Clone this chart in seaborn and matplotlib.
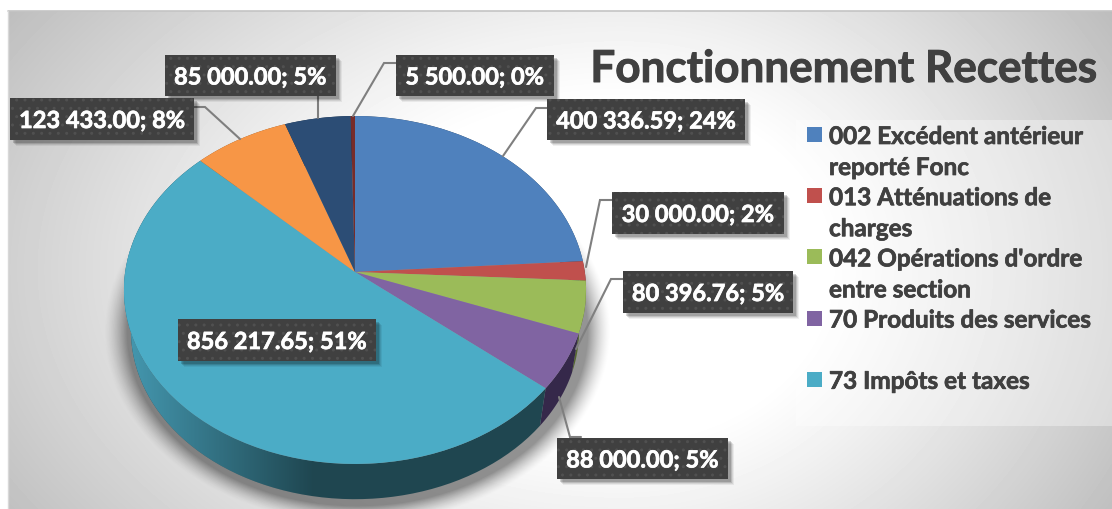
import numpy as np
import matplotlib
matplotlib.use("Agg")
import matplotlib.pyplot as plt
import matplotlib.patheffects as pe
import seaborn as sns
from matplotlib.patches import Rectangle, Polygon
from matplotlib.transforms import Transform
from matplotlib.path import Path

# data
categories = ["002 Excédent antérieur\nreporté Fonc", "013 Atténuations de\ncharges",
              "042 Opérations d'ordre\nentre section", "70 Produits des services\n ",
              "73 Impôts et taxes"]
values = [400336.59, 30000.00, 80396.76, 88000.00, 856217.65, 123433.00, 85000.00, 5500.00]
value_labels = ["400 336.59; 24%", "30 000.00; 2%", "80 396.76; 5%", "88 000.00; 5%",
                "856 217.65; 51%", "123 433.00; 8%", "85 000.00; 5%", "5 500.00; 0%"]
title = "Fonctionnement Recettes"

# styles and layout (pixels)
colors = sns.color_palette(["#4F81BD", "#C0504D", "#9BBB59", "#8064A2",
                            "#4BACC6", "#F79646", "#2C4D75", "#772C2A"])
side_colors = ["#2a4666", "#68302e", "#55672f", "#35284a", "#1f4650", "#8a5226", "#1a2e46", "#451a19"]
boxes = [(547, 100, 745, 141), (612, 193, 784, 235), (623, 272, 793, 314), (557, 439, 728, 480),
         (178, 320, 376, 362), (10, 99, 194, 141), (165, 56, 336, 97), (396, 56, 554, 97)]
leaders = [[(547, 109), (536, 109), (503, 157)],
           [(612, 201), (600, 201), (586, 268)],
           [(623, 280), (611, 280), (576, 350)],
           [(581, 438), (570, 438), (559, 398)],
           None,
           [(194, 108), (205, 108), (240, 140)],
           [(318, 97), (318, 119)],
           [(396, 64), (384, 64), (353, 117)]]
W, H = 1112, 510
FONT = "Lato"


class Perspective(Transform):
    # unit circle of the pie -> tilted disc in pixels
    input_dims = 2
    output_dims = 2

    def __init__(self, cx=355, apex=273, scale=1.0):
        super().__init__()
        self.cx, self.apex, self.scale = cx, apex, scale

    def transform_non_affine(self, xy):
        xy = np.asarray(xy, dtype=float)
        k = 0.1034
        w = 1 + k * xy[:, 1]
        return np.column_stack([self.cx + self.scale * 229.8 * xy[:, 0] / w,
                                self.apex - self.scale * 172.1 * xy[:, 1] / w])

    def transform_path_non_affine(self, path):
        return Path(self.transform_non_affine(path.vertices), path.codes)


sns.set_theme(style="white")
plt.rcParams["font.family"] = [FONT, "DejaVu Sans"]
plt.rcParams["hatch.linewidth"] = 1.0

fig = plt.figure(figsize=(W / 100, H / 100), dpi=100)
ax = fig.add_axes([0, 0, 1, 1])

# background gradient
yy, xx = np.mgrid[0:H, 0:W]
rx = np.where(xx < 620, 620, 490)
d = np.sqrt(((xx - 620) / rx) ** 2 + ((yy - 270) / 400) ** 2)
bg = 255 - 65 * np.clip((d - 0.42) / 0.76, 0, 1.05) ** 1.1
bg[:12, :] = 255
bg[:, :8] = 255
ax.imshow(bg, cmap="gray", vmin=0, vmax=255, extent=(0, W, H, 0), zorder=0, interpolation="bilinear")
ax.plot([8, W], [12, 12], color="#c4c4c4", lw=1.2, zorder=1)
ax.plot([8, 8], [12, H], color="#d8d8d8", lw=1, zorder=1)

# legend panel
ax.add_patch(Rectangle((796, 121), W - 796, 306, facecolor="white", alpha=0.35, edgecolor="none", zorder=1))

# soft shadow under the pie
sd = np.sqrt(((xx - 357) / 235) ** 2 + ((yy - 332) / 178) ** 2)
shadow = np.zeros((H, W, 4))
shadow[..., 3] = 0.42 * np.clip(1 - (sd - 0.98) / 0.1, 0, 1) ** 1.5
ax.imshow(shadow, extent=(0, W, H, 0), zorder=2)

# side wall of the pie
top = Perspective(apex=273)
bottom = Perspective(apex=314, scale=0.97)
angle = 90.0
total = sum(values)
for i, v in enumerate(values):
    span = 360 * v / total
    th = np.radians(np.linspace(angle, angle - span, 80))
    unit = np.column_stack([np.cos(th), np.sin(th)])
    pts = np.vstack([top.transform_non_affine(unit), bottom.transform_non_affine(unit)[::-1]])
    wall = Polygon(pts, closed=True, facecolor=side_colors[i], edgecolor="none", zorder=3)
    ax.add_patch(wall)
    if i == 4:
        # lighter towards the left end of the big slice
        ramp = np.clip((np.arange(124, 320) - 124) / 190, 0, 1)[None, :]
        grad = np.zeros((1, ramp.size, 4))
        grad[..., :3] = [0.28, 0.62, 0.72]
        grad[..., 3] = (1 - ramp) * 0.95
        im = ax.imshow(grad, extent=(124, 320, 510, 250), zorder=3.1, aspect="auto")
        im.set_clip_path(wall)
    angle -= span

# top of the pie
wedges, _ = ax.pie(values, colors=colors, startangle=90, counterclock=False, radius=1,
                   wedgeprops={"linewidth": 0})
for w in wedges:
    w.set_transform(top + ax.transData)
    w.set_clip_on(False)
    w.set_zorder(4)

ax.set_aspect("auto")
ax.set_xlim(0, W)
ax.set_ylim(H, 0)
ax.axis("off")

# leader lines
for pts in leaders:
    if pts:
        ax.plot(*zip(*pts), color="#7f7f7f", lw=1.5, zorder=5, solid_joinstyle="miter")

# value labels
for (x0, y0, x1, y1), lab in zip(boxes, value_labels):
    for off, alpha in [(6, 0.06), (5, 0.08), (4, 0.12), (3, 0.16)]:
        ax.add_patch(Rectangle((x0 + off, y0 + off), x1 - x0, y1 - y0, facecolor="black",
                               alpha=alpha, edgecolor="none", zorder=6))
    ax.add_patch(Rectangle((x0, y0), x1 - x0, y1 - y0, facecolor="#404040", edgecolor="#505050",
                           hatch="..", linewidth=0, zorder=7))
    t = ax.text((x0 + x1) / 2, (y0 + y1) / 2 + 1.5, lab, color="white", fontsize=17, fontweight="bold",
                ha="center", va="center", zorder=8)
    t.set_path_effects([pe.withStroke(linewidth=0.5, foreground="white")])

# title and legend
t = ax.text(843.5, 70, title, color="#404040", fontsize=31.7, fontweight="bold", ha="center", va="center", zorder=8)
t.set_path_effects([pe.withStroke(linewidth=0.7, foreground="#404040")])
for i, cat in enumerate(categories):
    y = 128 + i * 61.2
    ax.add_patch(Rectangle((807, y), 15, 15, facecolor=colors[i], edgecolor="none", zorder=8))
    for j, line in enumerate(cat.split("\n")):
        t = ax.text(829, y + 9.5 + j * 31, line, color="#404040", fontsize=17.5, fontweight="bold",
                    ha="left", va="center", zorder=8)
        t.set_path_effects([pe.withStroke(linewidth=0.5, foreground="#404040")])

fig.savefig("out.png", dpi=100)
